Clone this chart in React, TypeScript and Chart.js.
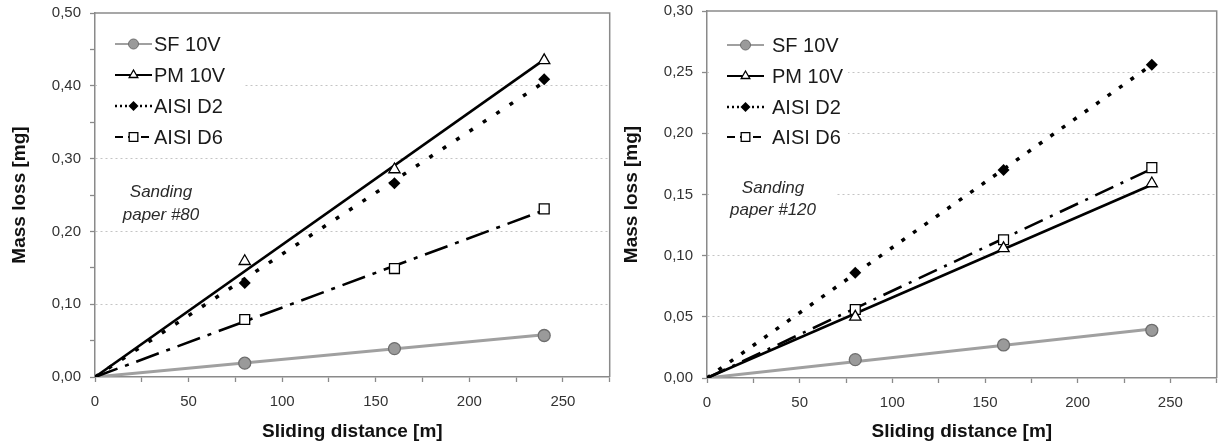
import React, { useEffect, useRef } from "react";
import { Chart, registerables } from "chart.js";

Chart.register(...registerables);

const FONT = "'Liberation Sans', Arial, Helvetica, sans-serif";

// ---- data ----
const seriesNames = ["SF 10V", "PM 10V", "AISI D2", "AISI D6"];
const distances = [80, 160, 240];
const trendX = [0, 240];
const xTickValues = [0, 50, 100, 150, 200, 250];

// Sanding paper #80
const sf80 = [0.019, 0.039, 0.057];
const pm80 = [0.159, 0.285, 0.435];
const d2_80 = [0.129, 0.266, 0.409];
const d6_80 = [0.079, 0.149, 0.231];
const sf80Trend = [0, 0.058];
const pm80Trend = [0, 0.436];
const d2_80Trend = [0, 0.405];
const d6_80Trend = [0, 0.229];

// Sanding paper #120
const sf120 = [0.015, 0.027, 0.039];
const pm120 = [0.05, 0.106, 0.159];
const d2_120 = [0.086, 0.17, 0.256];
const d6_120 = [0.056, 0.113, 0.172];
const sf120Trend = [0, 0.04];
const pm120Trend = [0, 0.158];
const d2_120Trend = [0, 0.256];
const d6_120Trend = [0, 0.171];

const note80 = ["Sanding", "paper #80"];
const note120 = ["Sanding", "paper #120"];

const yTicks80 = [0, 0.1, 0.2, 0.3, 0.4, 0.5];
const yTicks120 = [0, 0.05, 0.1, 0.15, 0.2, 0.25, 0.3];

type PanelProps = {
  left: number;
  width: number;
  values: number[][];
  trends: number[][];
  yTicks: number[];
  yStep: number;
  note: string[];
  top: number;
  bottom: number;
  padRight: number;
  d2Dash: number[];
  d6Dash: number[];
  legendTextX: number;
  legendRows: number[];
  legendBox: number[];
  noteX: number;
  noteY: number[];
  noteBox: number[] | null;
};

const fmt = (v: number) => v.toFixed(2).replace(".", ",");

function drawMarker(ctx: CanvasRenderingContext2D, kind: number, x: number, y: number, r: number) {
  ctx.save();
  ctx.setLineDash([]);
  ctx.beginPath();
  if (kind === 0) {
    ctx.arc(x, y, r, 0, Math.PI * 2);
    ctx.fillStyle = "#9a9a9a";
    ctx.strokeStyle = "#6e6e6e";
    ctx.lineWidth = 1;
    ctx.fill();
    ctx.stroke();
  } else if (kind === 1) {
    ctx.moveTo(x, y - r);
    ctx.lineTo(x + r * 0.866, y + r * 0.5);
    ctx.lineTo(x - r * 0.866, y + r * 0.5);
    ctx.closePath();
    ctx.fillStyle = "#fff";
    ctx.strokeStyle = "#000";
    ctx.lineWidth = 1.3;
    ctx.fill();
    ctx.stroke();
  } else if (kind === 2) {
    ctx.moveTo(x, y - r);
    ctx.lineTo(x + r, y);
    ctx.lineTo(x, y + r);
    ctx.lineTo(x - r, y);
    ctx.closePath();
    ctx.fillStyle = "#000";
    ctx.fill();
  } else {
    const s = r * 0.72;
    ctx.rect(x - s, y - s, 2 * s, 2 * s);
    ctx.fillStyle = "#fff";
    ctx.strokeStyle = "#000";
    ctx.lineWidth = 1.3;
    ctx.fill();
    ctx.stroke();
  }
  ctx.restore();
}

function Panel(p: PanelProps) {
  const ref = useRef<HTMLCanvasElement | null>(null);

  useEffect(() => {
    if (!ref.current) return;
    const lineColors = ["#a0a0a0", "#000", "#000", "#000"];
    const lineWidths = [3, 2.6, 3.5, 2.6];
    const dashes = [[], [], p.d2Dash, p.d6Dash];
    const pointStyles = ["circle", "triangle", "rectRot", "rect"];
    const radii = [6, 6.5, 6, 7];
    const fills = ["#9a9a9a", "#fff", "#000", "#fff"];
    const borders = ["#6e6e6e", "#000", "#000", "#000"];

    const datasets: any[] = [];
    seriesNames.forEach((name, i) => {
      datasets.push({
        label: name + " trend",
        data: trendX.map((x, j) => ({ x, y: p.trends[i][j] })),
        showLine: true,
        borderColor: lineColors[i],
        borderWidth: lineWidths[i],
        borderDash: dashes[i],
        borderCapStyle: "butt",
        pointRadius: 0,
        order: 10 - i,
      });
    });
    seriesNames.forEach((name, i) => {
      datasets.push({
        label: name,
        data: distances.map((x, j) => ({ x, y: p.values[i][j] })),
        showLine: false,
        pointStyle: pointStyles[i],
        pointRadius: radii[i],
        pointBackgroundColor: fills[i],
        pointBorderColor: borders[i],
        pointBorderWidth: i === 2 ? 0 : 1.3,
        order: 1,
      });
    });

    const decor = {
      id: "decor",
      afterDraw(chart: any) {
        const { ctx, chartArea } = chart;
        const { left, top, right, bottom } = chartArea;
        ctx.save();
        // plot border top & right
        ctx.strokeStyle = "#8a8a8a";
        ctx.lineWidth = 1.5;
        ctx.setLineDash([]);
        ctx.beginPath();
        ctx.moveTo(left, top);
        ctx.lineTo(right, top);
        ctx.lineTo(right, bottom);
        ctx.stroke();

        // legend box
        const [bx, by, bw, bh] = p.legendBox;
        ctx.fillStyle = "#fff";
        ctx.fillRect(bx, by, bw, bh);
        if (p.noteBox) {
          const [nx, ny, nw, nh] = p.noteBox;
          ctx.fillRect(nx, ny, nw, nh);
        }
        const legDash = [[], [], [2, 3], [8, 5]];
        seriesNames.forEach((name, i) => {
          const y = p.legendRows[i];
          ctx.save();
          ctx.strokeStyle = lineColors[i];
          ctx.lineWidth = i === 2 ? 2.5 : 2;
          ctx.setLineDash(legDash[i]);
          ctx.beginPath();
          ctx.moveTo(115, y);
          ctx.lineTo(152, y);
          ctx.stroke();
          ctx.restore();
          drawMarker(ctx, i, 133.5, y, i === 3 ? 6 : 5);
          ctx.fillStyle = "#1a1a1a";
          ctx.font = `20px ${FONT}`;
          ctx.textAlign = "left";
          ctx.textBaseline = "middle";
          ctx.fillText(name, p.legendTextX, y + 1);
        });

        // note
        ctx.fillStyle = "#2a2a2a";
        ctx.font = `italic 17px ${FONT}`;
        ctx.textAlign = "center";
        ctx.textBaseline = "middle";
        p.note.forEach((t, i) => ctx.fillText(t, p.noteX, p.noteY[i]));
        ctx.restore();
      },
    };

    const yMax = p.yTicks[p.yTicks.length - 1];
    const isLabel = (v: number) => p.yTicks.some((t) => Math.abs(t - v) < 1e-6);

    const chart = new Chart(ref.current, {
      type: "scatter",
      data: { datasets },
      options: {
        animation: false,
        responsive: false,
        devicePixelRatio: 1,
        layout: { padding: { left: 0, top: p.top, right: p.padRight, bottom: 0 } },
        plugins: { legend: { display: false }, tooltip: { enabled: false } },
        scales: {
          x: {
            type: "linear",
            min: 0,
            max: 275,
            afterFit: (s: any) => {
              s.height = 447 - p.bottom;
              s.paddingLeft = 0;
              s.paddingRight = 0;
            },
            ticks: {
              stepSize: 25,
              autoSkip: false,
              maxRotation: 0,
              padding: 11,
              color: "#333",
              font: { family: FONT, size: 15 },
              callback: (v: any) => (xTickValues.includes(Number(v)) ? String(v) : ""),
            },
            grid: {
              drawOnChartArea: false,
              tickLength: 5,
              color: "#8a8a8a",
              tickColor: "#8a8a8a",
              tickWidth: 1.3,
            },
            border: { color: "#8a8a8a", width: 1.5 },
            title: {
              display: true,
              text: "Sliding distance [m]",
              color: "#111",
              font: { family: FONT, size: 19, weight: "bold" },
              padding: { top: 0, bottom: 4 },
            },
          },
          y: {
            type: "linear",
            min: 0,
            max: yMax,
            afterFit: (s: any) => {
              s.width = 95;
              s.paddingTop = 0;
              s.paddingBottom = 0;
            },
            ticks: {
              stepSize: p.yStep,
              autoSkip: false,
              padding: 9,
              color: "#333",
              font: { family: FONT, size: 15 },
              callback: (v: any) => (isLabel(Number(v)) ? fmt(Number(v)) : ""),
            },
            grid: {
              drawOnChartArea: true,
              tickLength: 5,
              lineWidth: 1,
              color: (c: any) => {
                const v = c.tick ? c.tick.value : 0;
                if (v <= 1e-6 || v >= yMax - 1e-6) return "rgba(0,0,0,0)";
                return isLabel(v) ? "#c4c4c4" : "rgba(0,0,0,0)";
              },
              tickColor: "#8a8a8a",
              tickWidth: 1.3,
            },
            border: { color: "#8a8a8a", width: 1.5, dash: [2, 3] },
            title: {
              display: true,
              text: "Mass loss [mg]",
              color: "#111",
              font: { family: FONT, size: 19, weight: "bold" },
              padding: { top: 8, bottom: 0 },
            },
          },
        },
      } as any,
      plugins: [decor],
    });
    return () => chart.destroy();
  }, []);

  return (
    <canvas
      ref={ref}
      width={p.width}
      height={447}
      style={{ display: "block", position: "absolute", left: p.left, top: 0 }}
    />
  );
}

export default function App() {
  return (
    <div
      style={{
        position: "absolute",
        left: 0,
        top: 0,
        width: 1218,
        height: 447,
        background: "#fff",
        overflow: "hidden",
      }}
    >
      <Panel
        left={612}
        width={613}
        values={[sf120, pm120, d2_120, d6_120]}
        trends={[sf120Trend, pm120Trend, d2_120Trend, d6_120Trend]}
        yTicks={yTicks120}
        yStep={0.05}
        note={note120}
        top={11}
        bottom={378}
        padRight={1}
        d2Dash={[4, 10]}
        d6Dash={[20, 8, 3, 8]}
        legendTextX={160}
        legendRows={[45, 76, 107, 137]}
        legendBox={[97, 25, 139, 128]}
        noteX={161}
        noteY={[188, 210]}
        noteBox={[97, 172, 128, 50]}
      />
      <Panel
        left={0}
        width={618}
        values={[sf80, pm80, d2_80, d6_80]}
        trends={[sf80Trend, pm80Trend, d2_80Trend, d6_80Trend]}
        yTicks={yTicks80}
        yStep={0.05}
        note={note80}
        top={13}
        bottom={377}
        padRight={2}
        d2Dash={[4, 12]}
        d6Dash={[24, 8, 4, 8]}
        legendTextX={154}
        legendRows={[44, 75, 106, 137]}
        legendBox={[97, 25, 148, 128]}
        noteX={161}
        noteY={[192, 215]}
        noteBox={null}
      />
    </div>
  );
}
